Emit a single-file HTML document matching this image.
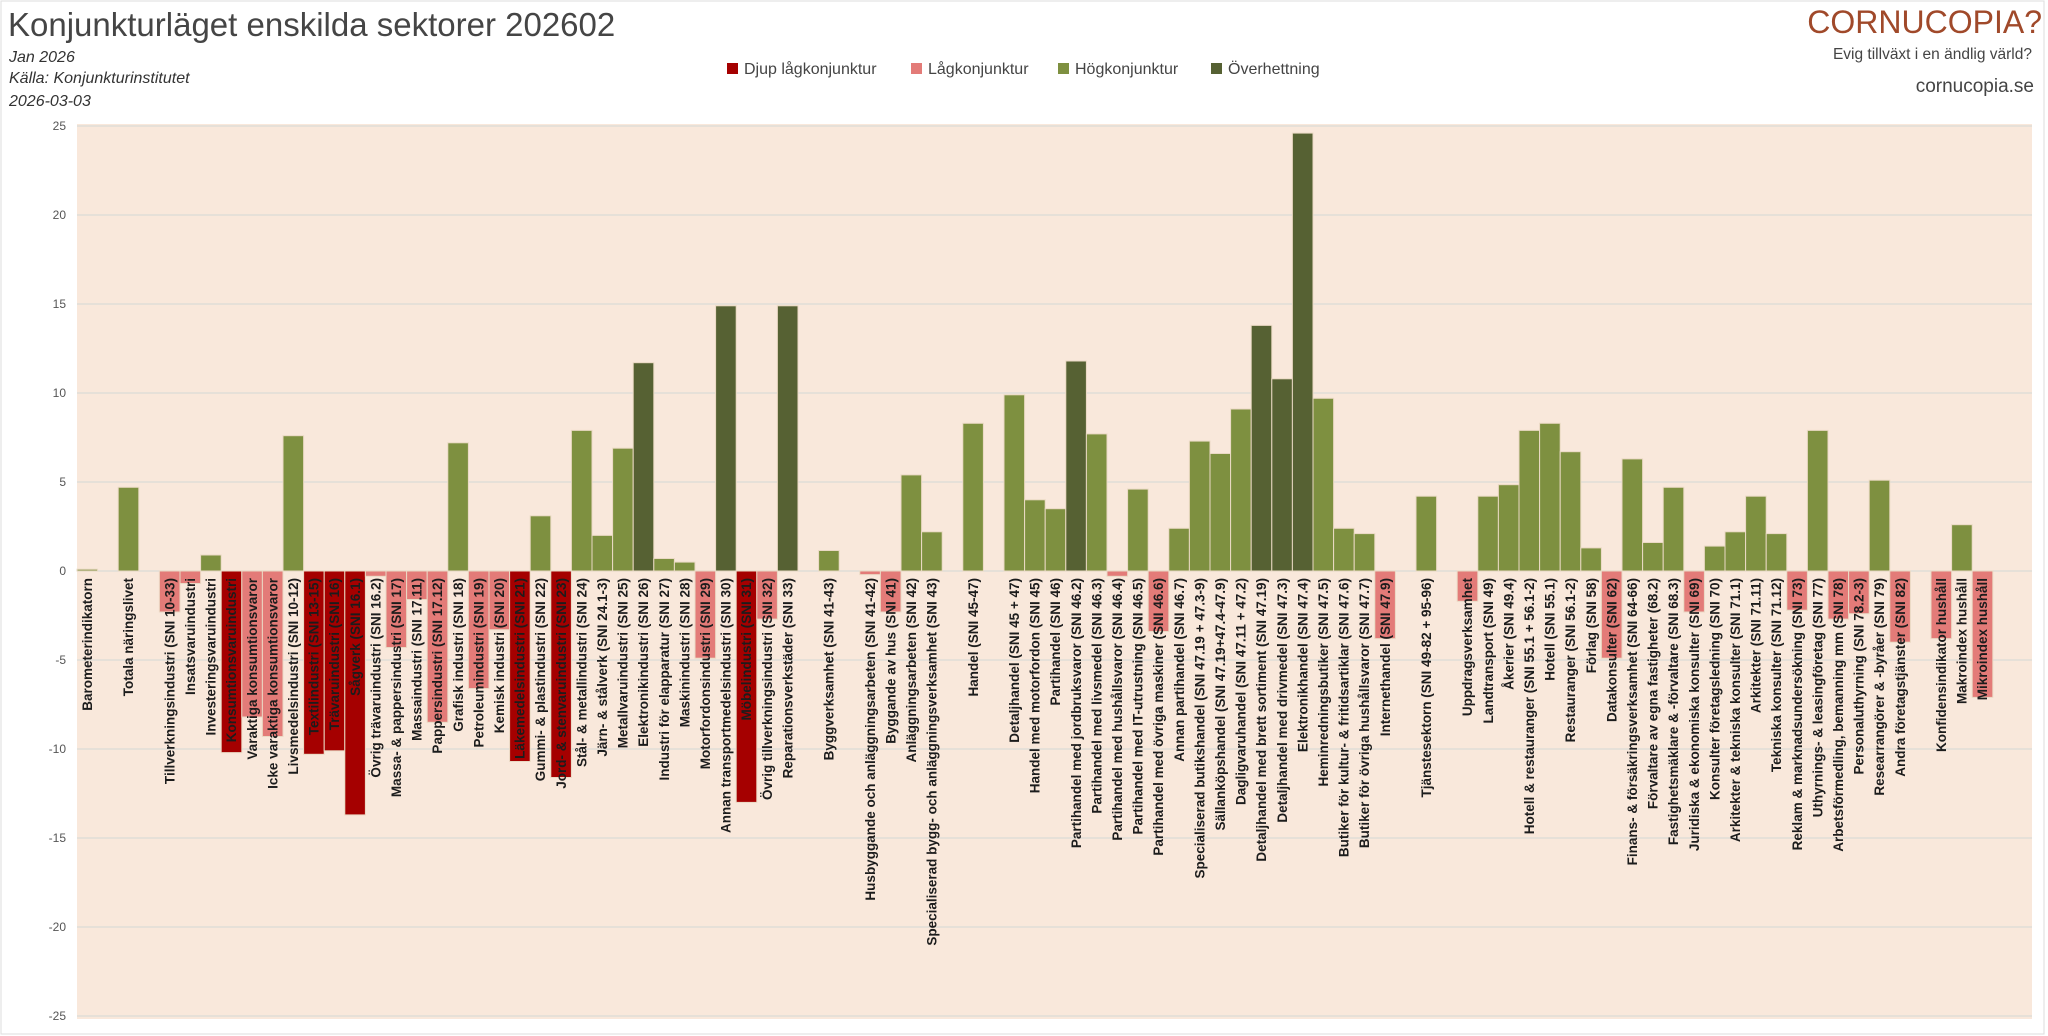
<!DOCTYPE html>
<html><head><meta charset="utf-8"><style>
html,body{margin:0;padding:0;background:#fff;}
svg{display:block;font-family:"Liberation Sans",sans-serif;}
.l{font-size:13.5px;font-weight:bold;fill:#1c1c1c;}
.t{font-size:12px;fill:#555;}
.g{fill:#7e9040}.o{fill:#566133}.p{fill:#e37b78}.r{fill:#a50000}
</style></head><body>
<svg width="2048" height="1036" viewBox="0 0 2048 1036" xmlns="http://www.w3.org/2000/svg">
<rect x="1" y="1" width="2043" height="1033" fill="#fff" stroke="#ddd"/>
<text x="8" y="36" font-size="33" fill="#454545">Konjunkturläget enskilda sektorer 202602</text>
<g font-size="16" font-style="italic" fill="#333">
<text x="9" y="62">Jan 2026</text>
<text x="9" y="83">Källa: Konjunkturinstitutet</text>
<text x="9" y="106">2026-03-03</text>
</g>
<g font-size="16" fill="#444">
<rect x="727" y="63" width="11" height="11" fill="#a50000"/><text x="744" y="74">Djup lågkonjunktur</text>
<rect x="911" y="63" width="11" height="11" fill="#e37b78"/><text x="928" y="74">Lågkonjunktur</text>
<rect x="1058" y="63" width="11" height="11" fill="#7e9040"/><text x="1075" y="74">Högkonjunktur</text>
<rect x="1211" y="63" width="11" height="11" fill="#566133"/><text x="1228" y="74">Överhettning</text>
</g>
<text x="2042" y="33" font-size="32" fill="#a0492a" text-anchor="end">CORNUCOPIA?</text>
<text x="2032" y="59" font-size="15.5" fill="#444" text-anchor="end">Evig tillväxt i en ändlig värld?</text>
<text x="2034" y="92" font-size="19" fill="#444" text-anchor="end">cornucopia.se</text>
<rect x="77" y="124" width="1955" height="895" fill="#f9e8db"/>
<g stroke="#dcdad6" stroke-width="1.3">
<line x1="77" x2="2032" y1="126" y2="126"/><line x1="77" x2="2032" y1="215" y2="215"/><line x1="77" x2="2032" y1="304" y2="304"/><line x1="77" x2="2032" y1="393" y2="393"/><line x1="77" x2="2032" y1="482" y2="482"/><line x1="77" x2="2032" y1="571" y2="571"/><line x1="77" x2="2032" y1="660" y2="660"/><line x1="77" x2="2032" y1="749" y2="749"/><line x1="77" x2="2032" y1="838" y2="838"/><line x1="77" x2="2032" y1="927" y2="927"/><line x1="77" x2="2032" y1="1016" y2="1016"/>
</g>
<g class="t" text-anchor="end">
<text x="66" y="130">25</text><text x="66" y="219">20</text><text x="66" y="308">15</text><text x="66" y="397">10</text><text x="66" y="486">5</text><text x="66" y="575">0</text><text x="66" y="664">-5</text><text x="66" y="753">-10</text><text x="66" y="842">-15</text><text x="66" y="931">-20</text><text x="66" y="1020">-25</text>
</g>
<g stroke="#ead9c4" stroke-width="1">
<rect class="g" x="77" y="569.2" width="20.6" height="1.8"/>
<rect class="g" x="118.2" y="487.3" width="20.6" height="83.7"/>
<rect class="p" x="159.4" y="571" width="20.6" height="41"/>
<rect class="p" x="180" y="571" width="20.6" height="12.5"/>
<rect class="g" x="200.6" y="555" width="20.6" height="16"/>
<rect class="r" x="221.2" y="571" width="20.6" height="181.6"/>
<rect class="p" x="241.8" y="571" width="20.6" height="146"/>
<rect class="p" x="262.4" y="571" width="20.6" height="165.5"/>
<rect class="g" x="283" y="435.7" width="20.6" height="135.3"/>
<rect class="r" x="303.6" y="571" width="20.6" height="183.3"/>
<rect class="r" x="324.2" y="571" width="20.6" height="179.8"/>
<rect class="r" x="344.8" y="571" width="20.6" height="243.9"/>
<rect class="p" x="365.4" y="571" width="20.6" height="5.3"/>
<rect class="p" x="386" y="571" width="20.6" height="76.5"/>
<rect class="p" x="406.6" y="571" width="20.6" height="28.5"/>
<rect class="p" x="427.2" y="571" width="20.6" height="151.3"/>
<rect class="g" x="447.8" y="442.8" width="20.6" height="128.2"/>
<rect class="p" x="468.4" y="571" width="20.6" height="117.5"/>
<rect class="p" x="489" y="571" width="20.6" height="58.7"/>
<rect class="r" x="509.6" y="571" width="20.6" height="190.5"/>
<rect class="g" x="530.2" y="515.8" width="20.6" height="55.2"/>
<rect class="r" x="550.8" y="571" width="20.6" height="206.5"/>
<rect class="g" x="571.4" y="430.4" width="20.6" height="140.6"/>
<rect class="g" x="592" y="535.4" width="20.6" height="35.6"/>
<rect class="g" x="612.6" y="448.2" width="20.6" height="122.8"/>
<rect class="o" x="633.2" y="362.7" width="20.6" height="208.3"/>
<rect class="g" x="653.8" y="558.5" width="20.6" height="12.5"/>
<rect class="g" x="674.4" y="562.1" width="20.6" height="8.9"/>
<rect class="p" x="695" y="571" width="20.6" height="87.2"/>
<rect class="o" x="715.6" y="305.8" width="20.6" height="265.2"/>
<rect class="r" x="736.2" y="571" width="20.6" height="231.4"/>
<rect class="p" x="756.8" y="571" width="20.6" height="48.1"/>
<rect class="o" x="777.4" y="305.8" width="20.6" height="265.2"/>
<rect class="g" x="818.6" y="550.5" width="20.6" height="20.5"/>
<rect class="p" x="859.8" y="571" width="20.6" height="3.6"/>
<rect class="p" x="880.4" y="571" width="20.6" height="41"/>
<rect class="g" x="901" y="474.9" width="20.6" height="96.1"/>
<rect class="g" x="921.6" y="531.8" width="20.6" height="39.2"/>
<rect class="g" x="962.8" y="423.3" width="20.6" height="147.7"/>
<rect class="g" x="1004" y="394.8" width="20.6" height="176.2"/>
<rect class="g" x="1024.6" y="499.8" width="20.6" height="71.2"/>
<rect class="g" x="1045.2" y="508.7" width="20.6" height="62.3"/>
<rect class="o" x="1065.8" y="361" width="20.6" height="210"/>
<rect class="g" x="1086.4" y="433.9" width="20.6" height="137.1"/>
<rect class="p" x="1107" y="571" width="20.6" height="5.3"/>
<rect class="g" x="1127.6" y="489.1" width="20.6" height="81.9"/>
<rect class="p" x="1148.2" y="571" width="20.6" height="60.5"/>
<rect class="g" x="1168.8" y="528.3" width="20.6" height="42.7"/>
<rect class="g" x="1189.4" y="441.1" width="20.6" height="129.9"/>
<rect class="g" x="1210" y="453.5" width="20.6" height="117.5"/>
<rect class="g" x="1230.6" y="409" width="20.6" height="162"/>
<rect class="o" x="1251.2" y="325.4" width="20.6" height="245.6"/>
<rect class="o" x="1271.8" y="378.8" width="20.6" height="192.2"/>
<rect class="o" x="1292.4" y="133.1" width="20.6" height="437.9"/>
<rect class="g" x="1313" y="398.3" width="20.6" height="172.7"/>
<rect class="g" x="1333.6" y="528.3" width="20.6" height="42.7"/>
<rect class="g" x="1354.2" y="533.6" width="20.6" height="37.4"/>
<rect class="p" x="1374.8" y="571" width="20.6" height="67.6"/>
<rect class="g" x="1416" y="496.2" width="20.6" height="74.8"/>
<rect class="p" x="1457.2" y="571" width="20.6" height="30.3"/>
<rect class="g" x="1477.8" y="496.2" width="20.6" height="74.8"/>
<rect class="g" x="1498.4" y="484.7" width="20.6" height="86.3"/>
<rect class="g" x="1519" y="430.4" width="20.6" height="140.6"/>
<rect class="g" x="1539.6" y="423.3" width="20.6" height="147.7"/>
<rect class="g" x="1560.2" y="451.7" width="20.6" height="119.3"/>
<rect class="g" x="1580.8" y="547.9" width="20.6" height="23.1"/>
<rect class="p" x="1601.4" y="571" width="20.6" height="87.2"/>
<rect class="g" x="1622" y="458.9" width="20.6" height="112.1"/>
<rect class="g" x="1642.6" y="542.5" width="20.6" height="28.5"/>
<rect class="g" x="1663.2" y="487.3" width="20.6" height="83.7"/>
<rect class="p" x="1683.8" y="571" width="20.6" height="41"/>
<rect class="g" x="1704.4" y="546.1" width="20.6" height="24.9"/>
<rect class="g" x="1725" y="531.8" width="20.6" height="39.2"/>
<rect class="g" x="1745.6" y="496.2" width="20.6" height="74.8"/>
<rect class="g" x="1766.2" y="533.6" width="20.6" height="37.4"/>
<rect class="p" x="1786.8" y="571" width="20.6" height="39.2"/>
<rect class="g" x="1807.4" y="430.4" width="20.6" height="140.6"/>
<rect class="p" x="1828" y="571" width="20.6" height="48.1"/>
<rect class="p" x="1848.6" y="571" width="20.6" height="42.7"/>
<rect class="g" x="1869.2" y="480.2" width="20.6" height="90.8"/>
<rect class="p" x="1889.8" y="571" width="20.6" height="71.2"/>
<rect class="p" x="1931" y="571" width="20.6" height="67.6"/>
<rect class="g" x="1951.6" y="524.7" width="20.6" height="46.3"/>
<rect class="p" x="1972.2" y="571" width="20.6" height="126.4"/>
</g>
<g class="l" text-anchor="end">
<text transform="translate(92,578) rotate(-90)">Barometerindikatorn</text>
<text transform="translate(133.2,578) rotate(-90)">Totala näringslivet</text>
<text transform="translate(174.4,578) rotate(-90)">Tillverkningsindustri (SNI 10-33)</text>
<text transform="translate(195,578) rotate(-90)">Insatsvaruindustri</text>
<text transform="translate(215.6,578) rotate(-90)">Investeringsvaruindustri</text>
<text transform="translate(236.2,578) rotate(-90)">Konsumtionsvaruindustri</text>
<text transform="translate(256.8,578) rotate(-90)">Varaktiga konsumtionsvaror</text>
<text transform="translate(277.4,578) rotate(-90)">Icke varaktiga konsumtionsvaror</text>
<text transform="translate(298,578) rotate(-90)">Livsmedelsindustri (SNI 10-12)</text>
<text transform="translate(318.6,578) rotate(-90)">Textilindustri (SNI 13-15)</text>
<text transform="translate(339.2,578) rotate(-90)">Trävaruindustri (SNI 16)</text>
<text transform="translate(359.8,578) rotate(-90)">Sågverk (SNI 16.1)</text>
<text transform="translate(380.4,578) rotate(-90)">Övrig trävaruindustri (SNI 16.2)</text>
<text transform="translate(401,578) rotate(-90)">Massa- &amp; pappersindustri (SNI 17)</text>
<text transform="translate(421.6,578) rotate(-90)">Massaindustri (SNI 17.11)</text>
<text transform="translate(442.2,578) rotate(-90)">Pappersindustri (SNI 17.12)</text>
<text transform="translate(462.8,578) rotate(-90)">Grafisk industri (SNI 18)</text>
<text transform="translate(483.4,578) rotate(-90)">Petroleumindustri (SNI 19)</text>
<text transform="translate(504,578) rotate(-90)">Kemisk industri (SNI 20)</text>
<text transform="translate(524.6,578) rotate(-90)">Läkemedelsindustri (SNI 21)</text>
<text transform="translate(545.2,578) rotate(-90)">Gummi- &amp; plastindustri (SNI 22)</text>
<text transform="translate(565.8,578) rotate(-90)">Jord- &amp; stenvaruindustri (SNI 23)</text>
<text transform="translate(586.4,578) rotate(-90)">Stål- &amp; metallindustri (SNI 24)</text>
<text transform="translate(607,578) rotate(-90)">Järn- &amp; stålverk (SNI 24.1-3)</text>
<text transform="translate(627.6,578) rotate(-90)">Metallvaruindustri (SNI 25)</text>
<text transform="translate(648.2,578) rotate(-90)">Elektronikindustri (SNI 26)</text>
<text transform="translate(668.8,578) rotate(-90)">Industri för elapparatur (SNI 27)</text>
<text transform="translate(689.4,578) rotate(-90)">Maskinindustri (SNI 28)</text>
<text transform="translate(710,578) rotate(-90)">Motorfordonsindustri (SNI 29)</text>
<text transform="translate(730.6,578) rotate(-90)">Annan transportmedelsindustri (SNI 30)</text>
<text transform="translate(751.2,578) rotate(-90)">Möbelindustri (SNI 31)</text>
<text transform="translate(771.8,578) rotate(-90)">Övrig tillverkningsindustri (SNI 32)</text>
<text transform="translate(792.4,578) rotate(-90)">Reparationsverkstäder (SNI 33)</text>
<text transform="translate(833.6,578) rotate(-90)">Byggverksamhet (SNI 41-43)</text>
<text transform="translate(874.8,578) rotate(-90)">Husbyggande och anläggningsarbeten (SNI 41-42)</text>
<text transform="translate(895.4,578) rotate(-90)">Byggande av hus (SNI 41)</text>
<text transform="translate(916,578) rotate(-90)">Anläggningsarbeten (SNI 42)</text>
<text transform="translate(936.6,578) rotate(-90)">Specialiserad bygg- och anläggningsverksamhet (SNI 43)</text>
<text transform="translate(977.8,578) rotate(-90)">Handel (SNI 45-47)</text>
<text transform="translate(1019,578) rotate(-90)">Detaljhandel (SNI 45 + 47)</text>
<text transform="translate(1039.6,578) rotate(-90)">Handel med motorfordon (SNI 45)</text>
<text transform="translate(1060.2,578) rotate(-90)">Partihandel (SNI 46)</text>
<text transform="translate(1080.8,578) rotate(-90)">Partihandel med jordbruksvaror (SNI 46.2)</text>
<text transform="translate(1101.4,578) rotate(-90)">Partihandel med livsmedel (SNI 46.3)</text>
<text transform="translate(1122,578) rotate(-90)">Partihandel med hushållsvaror (SNI 46.4)</text>
<text transform="translate(1142.6,578) rotate(-90)">Partihandel med IT-utrustning (SNI 46.5)</text>
<text transform="translate(1163.2,578) rotate(-90)">Partihandel med övriga maskiner (SNI 46.6)</text>
<text transform="translate(1183.8,578) rotate(-90)">Annan partihandel (SNI 46.7)</text>
<text transform="translate(1204.4,578) rotate(-90)">Specialiserad butikshandel (SNI 47.19 + 47.3-9)</text>
<text transform="translate(1225,578) rotate(-90)">Sällanköpshandel (SNI 47.19+47.4-47.9)</text>
<text transform="translate(1245.6,578) rotate(-90)">Dagligvaruhandel (SNI 47.11 + 47.2)</text>
<text transform="translate(1266.2,578) rotate(-90)">Detaljhandel med brett sortiment (SNI 47.19)</text>
<text transform="translate(1286.8,578) rotate(-90)">Detaljhandel med drivmedel (SNI 47.3)</text>
<text transform="translate(1307.4,578) rotate(-90)">Elektronikhandel (SNI 47.4)</text>
<text transform="translate(1328,578) rotate(-90)">Heminredningsbutiker (SNI 47.5)</text>
<text transform="translate(1348.6,578) rotate(-90)">Butiker för kultur- &amp; fritidsartiklar (SNI 47.6)</text>
<text transform="translate(1369.2,578) rotate(-90)">Butiker för övriga hushållsvaror (SNI 47.7)</text>
<text transform="translate(1389.8,578) rotate(-90)">Internethandel (SNI 47.9)</text>
<text transform="translate(1431,578) rotate(-90)">Tjänstesektorn (SNI 49-82 + 95-96)</text>
<text transform="translate(1472.2,578) rotate(-90)">Uppdragsverksamhet</text>
<text transform="translate(1492.8,578) rotate(-90)">Landtransport (SNI 49)</text>
<text transform="translate(1513.4,578) rotate(-90)">Åkerier (SNI 49.4)</text>
<text transform="translate(1534,578) rotate(-90)">Hotell &amp; restauranger (SNI 55.1 + 56.1-2)</text>
<text transform="translate(1554.6,578) rotate(-90)">Hotell (SNI 55.1)</text>
<text transform="translate(1575.2,578) rotate(-90)">Restauranger (SNI 56.1-2)</text>
<text transform="translate(1595.8,578) rotate(-90)">Förlag (SNI 58)</text>
<text transform="translate(1616.4,578) rotate(-90)">Datakonsulter (SNI 62)</text>
<text transform="translate(1637,578) rotate(-90)">Finans- &amp; försäkringsverksamhet (SNI 64-66)</text>
<text transform="translate(1657.6,578) rotate(-90)">Förvaltare av egna fastigheter (68.2)</text>
<text transform="translate(1678.2,578) rotate(-90)">Fastighetsmäklare &amp; -förvaltare (SNI 68.3)</text>
<text transform="translate(1698.8,578) rotate(-90)">Juridiska &amp; ekonomiska konsulter (SNI 69)</text>
<text transform="translate(1719.4,578) rotate(-90)">Konsulter företagsledning (SNI 70)</text>
<text transform="translate(1740,578) rotate(-90)">Arkitekter &amp; tekniska konsulter (SNI 71.1)</text>
<text transform="translate(1760.6,578) rotate(-90)">Arkitekter (SNI 71.11)</text>
<text transform="translate(1781.2,578) rotate(-90)">Tekniska konsulter (SNI 71.12)</text>
<text transform="translate(1801.8,578) rotate(-90)">Reklam &amp; marknadsundersökning (SNI 73)</text>
<text transform="translate(1822.4,578) rotate(-90)">Uthyrnings- &amp; leasingföretag (SNI 77)</text>
<text transform="translate(1843,578) rotate(-90)">Arbetsförmedling, bemanning mm (SNI 78)</text>
<text transform="translate(1863.6,578) rotate(-90)">Personaluthyrning (SNI 78.2-3)</text>
<text transform="translate(1884.2,578) rotate(-90)">Researrangörer &amp; -byråer (SNI 79)</text>
<text transform="translate(1904.8,578) rotate(-90)">Andra företagstjänster (SNI 82)</text>
<text transform="translate(1946,578) rotate(-90)">Konfidensindikator hushåll</text>
<text transform="translate(1966.6,578) rotate(-90)">Makroindex hushåll</text>
<text transform="translate(1987.2,578) rotate(-90)">Mikroindex hushåll</text>
</g>
</svg>
</body></html>
